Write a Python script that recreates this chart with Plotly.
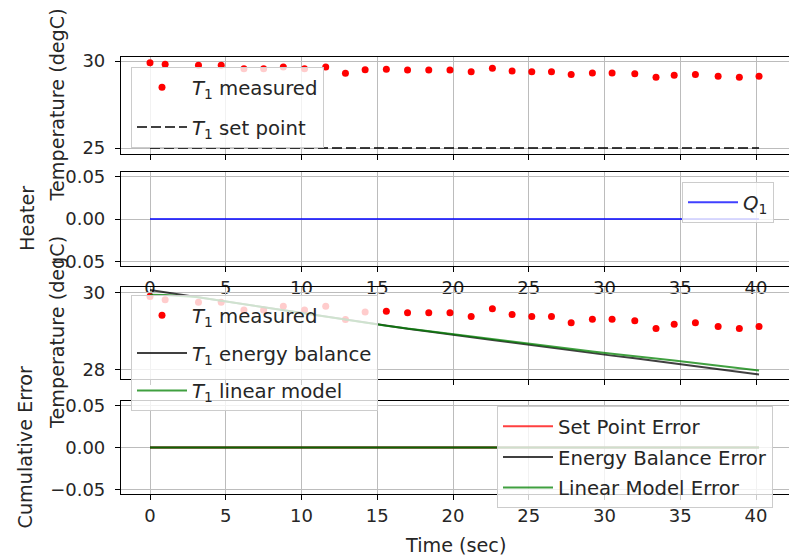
import plotly.graph_objects as go

# ---------------- data ----------------
time_s = [0.0, 1.0, 3.2, 4.7, 6.2, 7.5, 8.8, 10.2, 11.6, 12.9, 14.2, 15.6, 17.0, 18.4, 19.8,
          21.2, 22.6, 23.9, 25.2, 26.5, 27.8, 29.2, 30.5, 32.0, 33.4, 34.6, 36.0, 37.5, 38.9, 40.2]
t1_measured = [29.90, 29.82, 29.75, 29.75, 29.55, 29.55, 29.65, 29.55, 29.65, 29.30, 29.50, 29.52,
               29.48, 29.48, 29.48, 29.38, 29.58, 29.43, 29.38, 29.38, 29.22, 29.31, 29.31, 29.27,
               29.07, 29.18, 29.22, 29.12, 29.07, 29.12]
t1_setpoint = [25.0] * len(time_s)
q1_heater = [0.0] * len(time_s)
t1_energy_balance = [30.07, 30.01, 29.88, 29.79, 29.70, 29.62, 29.54, 29.46, 29.37, 29.30, 29.22,
                     29.13, 29.06, 28.99, 28.91, 28.84, 28.77, 28.70, 28.63, 28.56, 28.50, 28.42,
                     28.36, 28.29, 28.22, 28.16, 28.09, 28.01, 27.94, 27.87]
t1_linear_model = [29.95, 29.94, 29.88, 29.79, 29.70, 29.62, 29.55, 29.47, 29.38, 29.31, 29.23,
                   29.14, 29.07, 29.00, 28.92, 28.86, 28.79, 28.73, 28.66, 28.60, 28.54, 28.47,
                   28.41, 28.35, 28.29, 28.23, 28.17, 28.10, 28.03, 27.97]
err_setpoint = [0.0] * len(time_s)
err_energy_balance = [0.0] * len(time_s)
err_linear_model = [0.0] * len(time_s)

x_ticks = [0, 5, 10, 15, 20, 25, 30, 35, 40]

# ---------------- styling helpers ----------------
W, H = 789, 559
ML = 121
FONT = "DejaVu Sans"
TXT = "#262626"
RED = "rgba(255,0,0,0.75)"
BLK = "rgba(0,0,0,0.75)"
GRN = "rgba(0,128,0,0.75)"
BLU = "rgba(0,0,255,0.75)"


def ydom(top_px, bot_px):
    return [1 - bot_px / H, 1 - top_px / H]


def px_x(px):
    return (px - ML) / (W - ML)


def px_y(py):
    return 1 - py / H


fig = go.Figure()

# subplot 1
fig.add_trace(go.Scatter(x=time_s, y=t1_measured, mode="markers", name="<i>T</i><sub>1</sub> measured",
                         marker=dict(color="red", size=7), xaxis="x", yaxis="y",
                         legend="legend", legendgroup="a1"))
fig.add_trace(go.Scatter(x=time_s, y=t1_setpoint, mode="lines", name="<i>T</i><sub>1</sub> set point",
                         line=dict(color=BLK, width=2, dash="10px,4px"), xaxis="x", yaxis="y",
                         legend="legend", legendgroup="a2"))
# subplot 2
fig.add_trace(go.Scatter(x=time_s, y=q1_heater, mode="lines", name="<i>Q</i><sub>1</sub>",
                         line=dict(color=BLU, width=2), xaxis="x2", yaxis="y2", legend="legend2"))
# subplot 3
fig.add_trace(go.Scatter(x=time_s, y=t1_measured, mode="markers", name="<i>T</i><sub>1</sub> measured",
                         marker=dict(color="red", size=7), xaxis="x3", yaxis="y3",
                         legend="legend3", legendgroup="c1"))
fig.add_trace(go.Scatter(x=time_s, y=t1_energy_balance, mode="lines",
                         name="<i>T</i><sub>1</sub> energy balance",
                         line=dict(color=BLK, width=2), xaxis="x3", yaxis="y3",
                         legend="legend3", legendgroup="c2"))
fig.add_trace(go.Scatter(x=time_s, y=t1_linear_model, mode="lines",
                         name="<i>T</i><sub>1</sub> linear model",
                         line=dict(color=GRN, width=2), xaxis="x3", yaxis="y3",
                         legend="legend3", legendgroup="c3"))
# subplot 4
fig.add_trace(go.Scatter(x=time_s, y=err_setpoint, mode="lines", name="Set Point Error",
                         line=dict(color=RED, width=2), xaxis="x4", yaxis="y4",
                         legend="legend4", legendgroup="d1"))
fig.add_trace(go.Scatter(x=time_s, y=err_energy_balance, mode="lines", name="Energy Balance Error",
                         line=dict(color=BLK, width=2), xaxis="x4", yaxis="y4",
                         legend="legend4", legendgroup="d2"))
fig.add_trace(go.Scatter(x=time_s, y=err_linear_model, mode="lines", name="Linear Model Error",
                         line=dict(color=GRN, width=2), xaxis="x4", yaxis="y4",
                         legend="legend4", legendgroup="d3"))

xr = [-(150 - ML) / 15.15, (W - 150) / 15.15]

common_x = dict(range=xr, tickvals=x_ticks, showgrid=True, gridcolor="#bcbcbc", gridwidth=1,
                showline=True, linecolor="black", linewidth=1.2, mirror=True,
                ticks="outside", ticklen=5, tickcolor="black", zeroline=False,
                tickfont=dict(family=FONT, size=18, color=TXT), automargin=False)
common_y = dict(showgrid=True, gridcolor="#bcbcbc", gridwidth=1, showline=True, linecolor="black",
                linewidth=1.2, mirror=False, ticks="outside", ticklen=5, tickcolor="black",
                zeroline=False, tickfont=dict(family=FONT, size=18, color=TXT), automargin=False,
                ticklabelstandoff=6)

doms = [(57, 154), (172, 266), (287, 379), (401, 494)]

legend_common = dict(bgcolor="rgba(255,255,255,0.8)", bordercolor="#cccccc", borderwidth=1,
                     font=dict(family=FONT, size=19.7, color=TXT), xanchor="left", yanchor="top",
                     traceorder="grouped", itemwidth=50)

fig.update_layout(
    width=W, height=H,
    margin=dict(l=ML, r=0, t=0, b=0),
    template="none",
    paper_bgcolor="white", plot_bgcolor="white",
    font=dict(family=FONT, size=18, color=TXT),
    xaxis=dict(common_x, domain=[0, 1], anchor="y", showticklabels=False),
    yaxis=dict(common_y, domain=ydom(*doms[0]), anchor="x", range=[24.66, 30.23], tickvals=[25, 30]),
    xaxis2=dict(common_x, domain=[0, 1], anchor="y2", showticklabels=True),
    yaxis2=dict(common_y, domain=ydom(*doms[1]), anchor="x2", range=[-0.055, 0.055],
                tickvals=[-0.05, 0, 0.05], tickformat=".2f"),
    xaxis3=dict(common_x, domain=[0, 1], anchor="y3", showticklabels=False),
    yaxis3=dict(common_y, domain=ydom(*doms[2]), anchor="x3", range=[27.75, 30.15], tickvals=[28, 30]),
    xaxis4=dict(common_x, domain=[0, 1], anchor="y4", showticklabels=True),
    yaxis4=dict(common_y, domain=ydom(*doms[3]), anchor="x4", range=[-0.055, 0.055],
                tickvals=[-0.05, 0, 0.05], tickformat=".2f"),
    legend=dict(legend_common, x=px_x(131), y=px_y(67), tracegroupgap=11),
    legend2=dict(legend_common, x=px_x(682), y=px_y(182)),
    legend3=dict(legend_common, x=px_x(131), y=px_y(295), tracegroupgap=9),
    legend4=dict(legend_common, x=px_x(497), y=px_y(406), tracegroupgap=2),
    showlegend=True,
)

# axis titles as text annotations
ann_font = dict(family=FONT, size=19.2, color=TXT)
titles = [
    ("Temperature (degC)", 57, (doms[0][0] + doms[0][1]) / 2),
    ("Heater", 27, (doms[1][0] + doms[1][1]) / 2),
    ("Temperature (degC)", 57, (doms[2][0] + doms[2][1]) / 2),
    ("Cumulative Error", 25, (doms[3][0] + doms[3][1]) / 2),
]
for text, cx, cy in titles:
    fig.add_annotation(text=text, xref="paper", yref="paper", x=px_x(cx), y=px_y(cy),
                       xanchor="center", yanchor="middle", textangle=-90, showarrow=False,
                       font=ann_font)
fig.add_annotation(text="Time (sec)", xref="paper", yref="paper", x=px_x(455), y=px_y(545),
                   xanchor="center", yanchor="middle", showarrow=False, font=ann_font)

fig.write_html("out.html",
               config={"displayModeBar": False},
               post_script="document.body.style.margin='0';document.body.style.padding='0';"
                           "document.documentElement.style.overflow='hidden';")
